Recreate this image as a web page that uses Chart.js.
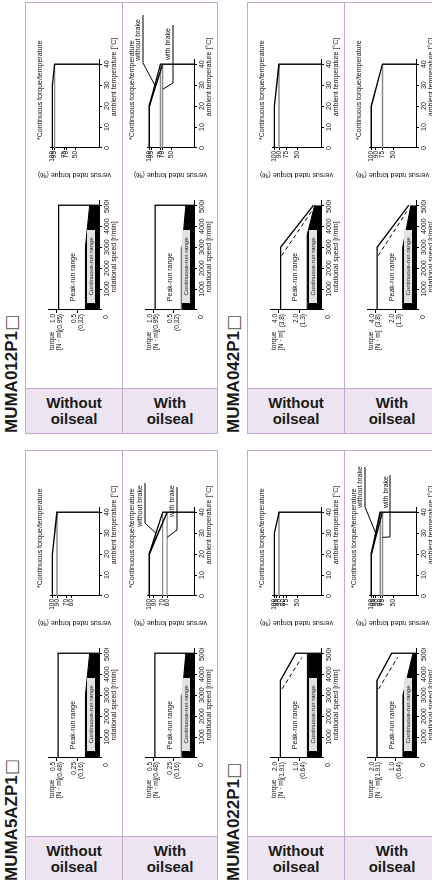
<!DOCTYPE html>
<html>
<head>
<meta charset="utf-8">
<script src="https://cdn.jsdelivr.net/npm/chart.js@4.4.1/dist/chart.umd.min.js"></script>
<style>
  html, body { margin: 0; padding: 0; background: #fff; }
  body { width: 432px; height: 880px; position: relative; overflow: hidden;
         font-family: "Liberation Sans", Arial, sans-serif; color: #1a1a1a; }
  .abs { position: absolute; box-sizing: border-box; }
  .box { border: 1px solid #c6a6d2; }
  .cell { background: #ece5f1; border: 1px solid #c6a6d2; font-weight: bold;
          font-size: 15px; line-height: 16px; text-align: center; padding-top: 6px; }
  .title { font-weight: bold; font-size: 17px; line-height: 17px; white-space: nowrap;
           transform-origin: 0 0; transform: rotate(-90deg); }
  .row { transform-origin: 0 0; }
  canvas { position: absolute; top: 0; }
</style>
</head>
<body>
<script>
// ---- shared axes ----
const speedTicks = [0, 1000, 2000, 3000, 4000, 5000];
const tempTicks = [0, 10, 20, 30, 40];

// ---- MUMA012P1 ----
const torqueTicks012 = [0.5, 1.0];
const torqueLabels012 = [["0.5", "(0.32)"], ["1.0", "(0.95)"]];
const peak012 = [[0, 0.95], [5000, 0.95], [5000, 0]];
const cont012 = [[0, 0.32], [3000, 0.32], [5000, 0.22]];
const contOil012 = [[0, 0.29], [3000, 0.29], [5000, 0.2]];
const band012 = [[0, 0.33], [3000, 0.33], [3000, 0]];
const pctTicks012 = [50, 70, 75, 95, 100];
const temp012 = [[0, 100], [30, 100], [40, 95], [40, 0]];
const ref012 = [95];
const noBrake012 = [[0, 100], [20, 100], [40, 75], [40, 0]];
const brake012 = [[20, 100], [40, 70]];
const refOil012 = [75, 70];

// ---- MUMA042P1 ----
const torqueTicks042 = [2.0, 4.0];
const torqueLabels042 = [["2.0", "(1.3)"], ["4.0", "(3.8)"]];
const peak042 = [[0, 3.8], [3000, 3.8], [5000, 0.7]];
const dashed042 = [[2600, 3.7], [4700, 0.9]];
const cont042 = [[0, 1.3], [3600, 1.3], [5000, 0.6]];
const contOil042 = [[0, 1.3], [3000, 1.3], [5000, 0.5]];
const pctTicks042 = [50, 75, 90, 100];
const temp042 = [[0, 100], [20, 100], [40, 90], [40, 0]];
const ref042 = [90];
const noBrake042 = [[0, 100], [20, 100], [40, 75], [40, 0]];
const brake042 = [];
const refOil042 = [75];

// ---- MUMA5AZP1 ----
const torqueTicks5AZ = [0.25, 0.5];
const torqueLabels5AZ = [["0.25", "(0.16)"], ["0.5", "(0.48)"]];
const peak5AZ = [[0, 0.48], [5000, 0.48], [5000, 0]];
const cont5AZ = [[0, 0.16], [3000, 0.16], [5000, 0.11]];
const contOil5AZ = [[0, 0.145], [3000, 0.145], [5000, 0.1]];
const band5AZ = [[0, 0.165], [3000, 0.165], [3000, 0]];
const pctTicks5AZ = [60, 70, 90, 100];
const temp5AZ = [[0, 100], [20, 100], [40, 90], [40, 0]];
const ref5AZ = [90];
const noBrake5AZ = [[0, 100], [20, 100], [40, 70], [40, 0]];
const brake5AZ = [[20, 100], [40, 60]];
const refOil5AZ = [70, 60];

// ---- MUMA022P1 ----
const torqueTicks022 = [1.0, 2.0];
const torqueLabels022 = [["1.0", "(0.64)"], ["2.0", "(1.91)"]];
const peak022 = [[0, 1.91], [3700, 1.91], [5000, 1.19], [5000, 0]];
const dashed022 = [[3300, 1.83], [4800, 0.9]];
const cont022 = [[0, 0.64], [5000, 0.64]];
const contOil022 = [[0, 0.64], [3000, 0.64], [5000, 0.15]];
const pctTicks022 = [50, 75, 80, 90, 95, 100];
const temp022 = [[0, 100], [30, 100], [40, 90], [40, 0]];
const ref022 = [90];
const noBrake022 = [[0, 100], [20, 100], [40, 80], [40, 0]];
const brake022 = [[20, 100], [40, 75]];
const refOil022 = [80, 75];

// panel layout (image coordinates) + where the brake notes sit
const panels = [
  { title: "MUMA012P1", dx: 0, dy: 0, yMax: 1.2, tTicks: torqueTicks012, tLabels: torqueLabels012,
    peak: peak012, dashed: null, cont: cont012, contOil: contOil012, band: band012,
    pct: pctTicks012, line: temp012, ref: ref012, noBrake: noBrake012, brake: brake012, refOil: refOil012,
    notes: { nb: [160, 16, 137, 185], b: [156, 46, 117, 175, 51] } },
  { title: "MUMA042P1", dx: 222, dy: 0, yMax: 4.8, tTicks: torqueTicks042, tLabels: torqueLabels042,
    peak: peak042, dashed: dashed042, cont: cont042, contOil: contOil042, band: null,
    pct: pctTicks042, line: temp042, ref: ref042, noBrake: noBrake042, brake: brake042, refOil: refOil042,
    notes: null },
  { title: "MUMA5AZP1", dx: 0, dy: 448, yMax: 0.6, tTicks: torqueTicks5AZ, tLabels: torqueLabels5AZ,
    peak: peak5AZ, dashed: null, cont: cont5AZ, contOil: contOil5AZ, band: band5AZ,
    pct: pctTicks5AZ, line: temp5AZ, ref: ref5AZ, noBrake: noBrake5AZ, brake: brake5AZ, refOil: refOil5AZ,
    notes: { nb: [142, 18, 125, 165], b: [147, 50, 118, 161, 55] } },
  { title: "MUMA022P1", dx: 222, dy: 448, yMax: 2.4, tTicks: torqueTicks022, tLabels: torqueLabels022,
    peak: peak022, dashed: dashed022, cont: cont022, contOil: contOil022, band: null,
    pct: pctTicks022, line: temp022, ref: ref022, noBrake: noBrake022, brake: brake022, refOil: refOil022,
    notes: { nb: [161, 16, 141, 181], b: [156, 42, 111, 173, 46] } }
];

Chart.defaults.font.family = '"Liberation Sans", Arial, sans-serif';
Chart.defaults.color = "#111";

const pts = a => a.map(p => ({ x: p[0], y: p[1] }));

function text(ctx, s, x, y, size, align, rot) {
  ctx.save();
  ctx.font = size + 'px "Liberation Sans", Arial, sans-serif';
  ctx.textAlign = align || "left";
  ctx.textBaseline = "middle";
  ctx.translate(x, y);
  if (rot) ctx.rotate(rot);
  ctx.fillText(s, 0, 0);
  ctx.restore();
}

function axisBase(min, max, ticks, size) {
  return {
    type: "linear", min: min, max: max,
    afterBuildTicks: s => { s.ticks = ticks.map(v => ({ value: v })); },
    ticks: { autoSkip: false, maxRotation: 0, font: { size: size }, color: "#111", padding: 1 },
    grid: { display: true, drawOnChartArea: false, tickLength: 3, color: "#000", lineWidth: 1 },
    border: { display: true, color: "#000", width: 1 }
  };
}

function speedChart(canvas, p, oil, h) {
  const ds = [{ data: pts(p.peak), borderColor: "#000", borderWidth: 1.3, fill: false, order: 0 }];
  if (p.dashed) ds.push({ data: pts(p.dashed), borderColor: "#000", borderWidth: 1, borderDash: [4, 3], fill: false, order: 1 });
  ds.push({ data: pts(oil ? p.contOil : p.cont), borderColor: "#000", borderWidth: 1, backgroundColor: "#000", fill: "origin", order: 2 });
  if (oil && p.band) ds.push({ data: pts(p.band), borderColor: "#9a9a9a", borderWidth: 0, backgroundColor: "#a8a8a8", fill: "origin", order: 3 });

  const x = axisBase(0, 5250, speedTicks, 7);
  x.ticks.callback = v => (v === 0 ? "" : v);
  x.afterFit = s => { s.height = 23; s.paddingLeft = 0; s.paddingRight = 0; };
  const y = axisBase(0, p.yMax, p.tTicks, 6.5);
  y.ticks.callback = (v, i) => p.tLabels[i];
  y.ticks.font.lineHeight = 1;
  y.afterFit = s => { s.width = 78; s.paddingTop = 0; s.paddingBottom = 0; };

  new Chart(canvas, {
    type: "line",
    data: { datasets: ds },
    options: {
      responsive: false, animation: false,
      layout: { padding: { left: 0, right: 0, top: 23, bottom: 0 } },
      elements: { point: { radius: 0 }, line: { tension: 0 } },
      plugins: { legend: { display: false }, tooltip: { enabled: false } },
      scales: { x: x, y: y }
    },
    plugins: [{
      id: "speedNotes",
      afterDraw(chart) {
        const ctx = chart.ctx, a = chart.chartArea;
        ctx.fillStyle = "#111";
        text(ctx, "torque", 38, 27, 6.5);
        text(ctx, "[N · m]", 38, 34, 6.5);
        text(ctx, "0", a.left - 7, a.bottom + 7, 7, "center");
        text(ctx, "Peak-run range", a.left + 33, a.top + 25, 7, "center");
        text(ctx, "rotational speed [r/min]", 131, h - 8, 7, "center");
        ctx.fillStyle = "#e2e2e2";
        ctx.fillRect(a.left + 7, a.bottom - 12, 73, 8);
        ctx.fillStyle = "#111";
        text(ctx, "Continuous-run range", a.left + 43.5, a.bottom - 7.8, 6, "center");
      }
    }]
  });
}

function tempChart(canvas, p, oil, h) {
  const ds = [];
  const lvls = oil ? p.refOil : p.ref;
  lvls.forEach(v => ds.push({ data: pts([[0, v], [40, v]]), borderColor: "#8c8c8c", borderWidth: 1.4, order: 3 }));
  ds.push({ data: pts(oil ? p.noBrake : p.line), borderColor: "#000", borderWidth: 1.4, order: 0 });
  if (oil && p.brake.length) ds.push({ data: pts(p.brake), borderColor: "#000", borderWidth: 1.4, order: 1 });

  const x = axisBase(0, 42, tempTicks, 7);
  x.afterFit = s => { s.height = 23; s.paddingLeft = 0; s.paddingRight = 0; };
  const y = axisBase(0, 105, p.pct, 6.5);
  y.grid.tickLength = 2;
  y.afterFit = s => { s.width = 52; s.paddingTop = 0; s.paddingBottom = 0; };

  new Chart(canvas, {
    type: "line",
    data: { datasets: ds },
    options: {
      responsive: false, animation: false,
      layout: { padding: { left: 0, right: 58, top: 25, bottom: 0 } },
      elements: { point: { radius: 0 }, line: { tension: 0 } },
      plugins: { legend: { display: false }, tooltip: { enabled: false } },
      scales: { x: x, y: y }
    },
    plugins: [{
      id: "tempNotes",
      afterDraw(chart) {
        const ctx = chart.ctx, a = chart.chartArea, sx = chart.scales.x, sy = chart.scales.y;
        ctx.fillStyle = "#111";
        text(ctx, "*Continuous torque/temperature", 60, oil && p.notes ? 10 : 15, 7);
        text(ctx, "versus rated torque (%)", 25, (a.top + a.bottom) / 2, 7, "center", -Math.PI / 2);
        text(ctx, "ambient temperature [°C]", 123, h - 8, 7, "center");
        if (oil && p.notes) {
          const n = p.notes.nb, b = p.notes.b;
          ctx.strokeStyle = "#000";
          ctx.lineWidth = 1;
          text(ctx, "without brake", n[0], n[1], 7, "center");
          const nbY = p.noBrake[1][1] + (p.noBrake[2][1] - p.noBrake[1][1]) * 0.5;
          ctx.beginPath();
          ctx.moveTo(n[3], n[1] + 5); ctx.lineTo(n[2], n[1] + 5);
          ctx.lineTo(sx.getPixelForValue(30), sy.getPixelForValue(nbY));
          ctx.stroke();
          text(ctx, "with brake", b[0], b[1], 7, "center");
          ctx.beginPath();
          ctx.moveTo(b[3], b[4]); ctx.lineTo(b[2], b[4]);
          ctx.lineTo(sx.getPixelForValue(28), sy.getPixelForValue(p.refOil[1]));
          ctx.stroke();
        }
      }
    }]
  });
}

function addEl(cls, css, html) {
  const d = document.createElement("div");
  d.className = "abs " + cls;
  d.style.cssText = css;
  if (html) d.innerHTML = html;
  document.body.appendChild(d);
  return d;
}

panels.forEach(p => {
  const L = 25 + p.dx, T = 2 + p.dy;
  addEl("box", `left:${L}px;top:${T}px;width:193px;height:432px;`);
  addEl("cell", `left:${L}px;top:${T + 386}px;width:98px;height:46px;`, "Without<br>oilseal");
  addEl("cell", `left:${L + 97}px;top:${T + 386}px;width:96px;height:46px;`, "With<br>oilseal");
  addEl("", `left:${L + 97}px;top:${T}px;width:1px;height:387px;background:#c6a6d2;`);
  addEl("title", `left:${3 + p.dx}px;top:${433 + p.dy}px;`, p.title + "<span style='font-weight:normal;font-family:DejaVu Sans;color:#555'>□</span>");

  [0, 1].forEach(r => {
    const h = r ? 95 : 97;
    const row = addEl("row", `left:${L + (r ? 97 : 0)}px;top:${T}px;width:386px;height:${h}px;transform:translateY(386px) rotate(-90deg);`);
    const c1 = document.createElement("canvas");
    c1.width = 188; c1.height = h;
    c1.style.cssText = `left:0px;width:188px;height:${h}px;`;
    const c2 = document.createElement("canvas");
    c2.width = 198; c2.height = h;
    c2.style.cssText = `left:188px;width:198px;height:${h}px;`;
    row.appendChild(c1); row.appendChild(c2);
    speedChart(c1, p, r === 1, h);
    tempChart(c2, p, r === 1, h);
  });
});
</script>
</body>
</html>
